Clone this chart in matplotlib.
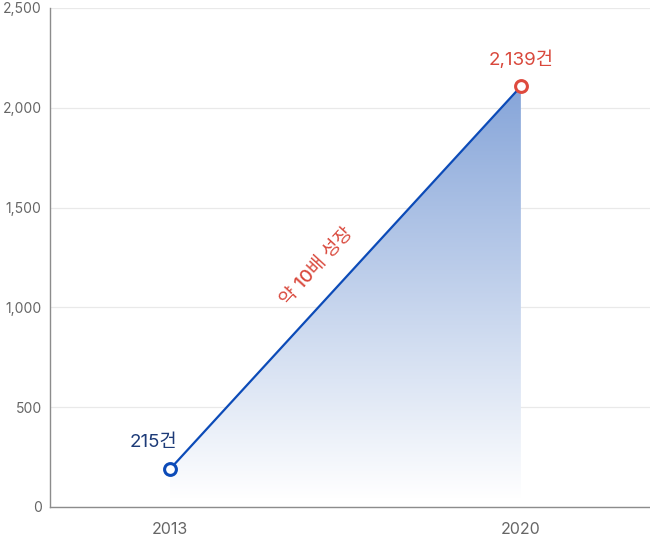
import numpy as np
import matplotlib
matplotlib.use("Agg")
import matplotlib.pyplot as plt
from matplotlib.colors import LinearSegmentedColormap
from matplotlib.patches import Polygon

plt.rcParams['font.family'] = ['Inter', 'Noto Sans CJK KR', 'DejaVu Sans']

# data
years = ["2013", "2020"]
values = [190, 2107]
value_labels = ["215건", "2,139건"]
growth_label = "약 10배 성장"
yticks = [0, 500, 1000, 1500, 2000, 2500]

fig = plt.figure(figsize=(6.5, 5.38), dpi=100)
ax = fig.add_axes([50/650, 1-507/538, 600/650, (507-8)/538])

x = np.arange(len(years))
ax.set_xlim(-0.342, 1.368)
ax.set_ylim(0, 2500)

# gradient fill under the line
cmap = LinearSegmentedColormap.from_list("g", ["#ffffff", "#86a5d9"])
grad = np.linspace(0, 1, 256).reshape(-1, 1)
verts = [(x[0], 40), (x[0], values[0]), (x[1], values[1]), (x[1], 40)]
poly = Polygon(verts, closed=True, facecolor='none', edgecolor='none')
ax.add_patch(poly)
im = ax.imshow(grad, cmap=cmap, aspect='auto', origin='lower',
               extent=[x[0], x[1], 40, values[1]], zorder=1,
               interpolation='bilinear')
im.set_clip_path(poly)

ax.plot(x, values, color='#0c4bb8', lw=1.6, zorder=3)
ax.plot(x[0], values[0], 'o', ms=8.5, mfc='white', mec='#0c4bb8', mew=2.2, zorder=4)
ax.plot(x[1], values[1], 'o', ms=8.5, mfc='white', mec='#de4a3e', mew=2.2, zorder=4)

ax.annotate(value_labels[0], (x[0], values[0]), xytext=(-17, 27),
            textcoords='offset pixels', ha='center', va='center',
            fontsize=13.5, color='#1d3b78')
ax.annotate(value_labels[1], (x[1], values[1]), xytext=(0, 27),
            textcoords='offset pixels', ha='center', va='center',
            fontsize=13.5, color='#d9483c')

# growth label along the line
ax.text(0.42, 1205, growth_label, rotation=47.5, rotation_mode='anchor',
        ha='center', va='center', fontsize=13.5, color='#d9483c',
        fontweight='medium')

ax.set_yticks(yticks)
ax.set_yticklabels([f"{v:,}" for v in yticks])
ax.set_xticks(x)
ax.set_xticklabels(years)
ax.tick_params(axis='both', length=0, colors='#666666')
ax.tick_params(axis='y', pad=6, labelsize=10)
ax.tick_params(axis='x', pad=11, labelsize=11.5)
ax.grid(axis='y', color='#e9e9e9', lw=0.9, zorder=0)
ax.set_axisbelow(True)
for s in ['top', 'right']:
    ax.spines[s].set_visible(False)
for s in ['left', 'bottom']:
    ax.spines[s].set_color('#8c8c8c')
    ax.spines[s].set_linewidth(1.0)

fig.savefig("out.png", dpi=100)
